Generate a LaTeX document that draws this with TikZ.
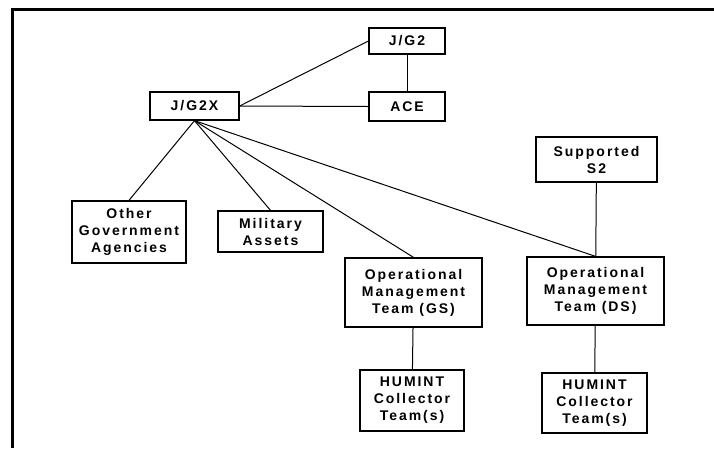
\documentclass[tikz,border=0pt]{standalone}
\usepackage{fontspec}
\usepackage{tikz}
\newfontfamily\boxfont[LetterSpace=14]{Liberation Sans}

\begin{document}
\begin{tikzpicture}[x=1pt,y=-1pt,
    unit/.style={draw, line width=1.3pt, align=center, inner sep=0pt,
      font=\boxfont\fontsize{14}{17}\selectfont\bfseries},
    link/.style={line width=1pt}]
      \useasboundingbox (0,0) rectangle (714,448);
      \draw[line width=3pt] (714,9.5) -- (12.5,9.5) -- (12.5,448);
      % top of the chain
      \node[unit, minimum width=89, minimum height=28] (jgtwox) at (194.5,106) {J/G2X};
      \node[unit, minimum width=76, minimum height=26] (jgtwo) at (407,41) {J/G2};
      \node[unit, minimum width=76, minimum height=29] (ace) at (407,106.5) {ACE};
      \node[unit, minimum width=121, minimum height=45] (sup) at (596.5,159.5) {Supported\\S2};
      % supporting elements
      \node[unit, minimum width=114, minimum height=62] (oga) at (129,232) {Other\\Government\\Agencies};
      \node[unit, minimum width=105, minimum height=41] (mil) at (270.5,231.5) {Military\\Assets};
      \node[unit, minimum width=137, minimum height=69] (omtgs) at (413.5,292.5) {Operational\\Management\\Team (GS)};
      \node[unit, minimum width=137, minimum height=68] (omtds) at (595.5,291) {Operational\\Management\\Team (DS)};
      \node[unit, minimum width=104, minimum height=61] (humgs) at (412,400.5) {HUMINT\\Collector\\Team(s)};
      \node[unit, minimum width=105, minimum height=60] (humds) at (594.5,403) {HUMINT\\Collector\\Team(s)};
      % links
      \draw[link] (jgtwox.east) -- (jgtwo.west);
      \draw[link] (jgtwox.east) -- (ace.west);
      \draw[link] (jgtwo) -- (ace);
      \foreach \n in {oga,mil,omtgs,omtds}
        \draw[link] (jgtwox.south) -- (\n.north);
      \draw[link] (sup) -- (omtds);
      \draw[link] (omtgs) -- (humgs);
      \draw[link] (omtds) -- (humds);
\end{tikzpicture}
\end{document}
